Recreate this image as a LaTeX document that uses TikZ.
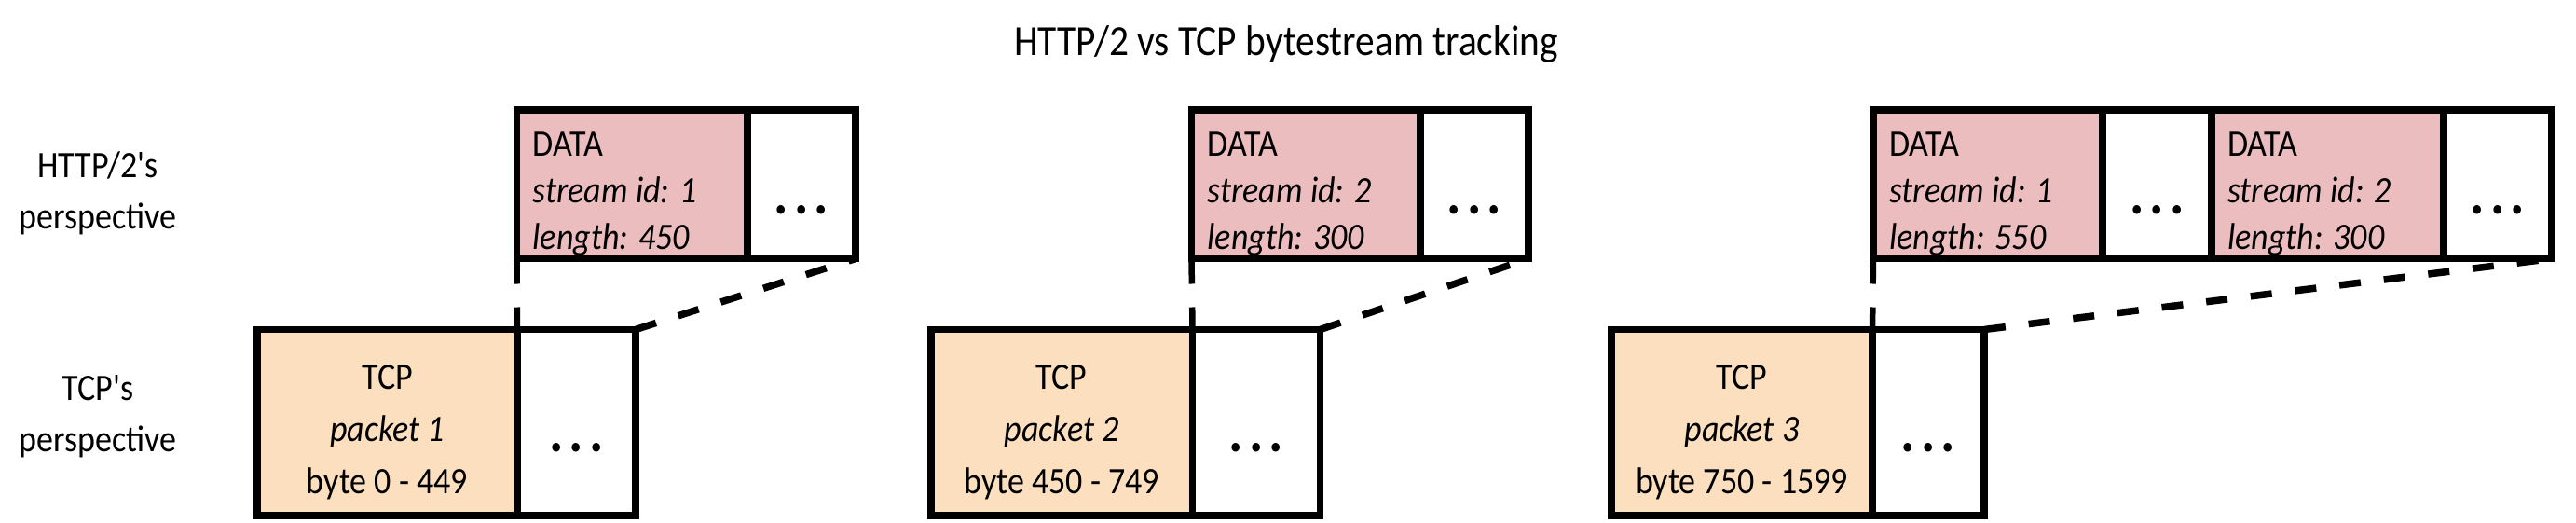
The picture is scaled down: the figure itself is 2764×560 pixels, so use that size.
\documentclass[tikz,border=0pt]{standalone}
\usepackage{fontspec}
\setmainfont{Carlito}[Ligatures=TeXOff, FakeStretch=0.9]
\definecolor{datapink}{RGB}{236,189,191}
\definecolor{tcppeach}{RGB}{252,223,190}
\newcommand\celldots{.\kern6pt.\kern6pt.}
\begin{document}
\begin{tikzpicture}[x=1pt,y=-1pt,
  cell/.style={draw=black, line width=7.5pt, outer sep=0pt, inner sep=0pt, anchor=north west},
  datacell/.style={cell, fill=datapink, minimum height=159.5pt},
  tcpcell/.style={cell, fill=tcppeach, minimum height=199.5pt},
  dotcellD/.style={cell, fill=white, minimum height=159.5pt},
  dotcellT/.style={cell, fill=white, minimum height=199.5pt},
  dtext/.style={anchor=west, align=left, inner sep=0pt, font=\fontsize{40}{50}\selectfont},
  ttext/.style={anchor=center, align=center, inner sep=0pt, font=\fontsize{40}{56}\selectfont},
  dotstext/.style={inner sep=0pt, font=\fontsize{64}{64}\selectfont\bfseries},
  persp/.style={align=center, inner sep=0pt, font=\fontsize{40}{55}\selectfont},
  split/.style={line width=6.5pt, dash pattern=on 27pt off 25pt},
  link/.style={line width=7.5pt, dash pattern=on 23pt off 25pt},
]
\useasboundingbox (0,0) rectangle (2764,560);

% title and side labels
\node[font=\fontsize{46}{50}\selectfont, anchor=base, inner sep=0pt] (title) at (1380,59) {HTTP/2 vs TCP bytestream tracking};
\node[persp] (lh) at (105,207) {HTTP/2's\\perspective};
\node[persp] (lt) at (105,447) {TCP's\\perspective};

% group 1
\node[datacell, minimum width=247.5pt] (d1) at (554.5,118) {};
\node[dotcellD, minimum width=116pt] (d1x) at (d1.north east) {};
\node[tcpcell, minimum width=279pt] (t1) at (276,353.5) {};
\node[dotcellT, minimum width=127pt] (t1x) at (t1.north east) {};

% group 2
\node[datacell, minimum width=245.5pt] (d2) at (1278.5,118) {};
\node[dotcellD, minimum width=116pt] (d2x) at (d2.north east) {};
\node[tcpcell, minimum width=280.5pt] (t2) at (999,353.5) {};
\node[dotcellT, minimum width=137pt] (t2x) at (t2.north east) {};

% group 3
\node[datacell, minimum width=246pt] (d3a) at (2010,118) {};
\node[dotcellD, minimum width=117pt] (d3ax) at (d3a.north east) {};
\node[datacell, minimum width=249pt] (d3b) at (d3ax.north east) {};
\node[dotcellD, minimum width=116pt] (d3bx) at (d3b.north east) {};
\node[tcpcell, minimum width=280pt] (t3) at (1729,353.5) {};
\node[dotcellT, minimum width=120pt] (t3x) at (t3.north east) {};

% texts in DATA cells
\node[dtext] (d1t) at ([xshift=17pt,yshift=-10pt]d1.west) {DATA\\\textit{stream id: 1}\\\textit{length: 450}};
\node[dtext] (d2t) at ([xshift=17pt,yshift=-10pt]d2.west) {DATA\\\textit{stream id: 2}\\\textit{length: 300}};
\node[dtext] (d3at) at ([xshift=17pt,yshift=-10pt]d3a.west) {DATA\\\textit{stream id: 1}\\\textit{length: 550}};
\node[dtext] (d3bt) at ([xshift=17pt,yshift=-10pt]d3b.west) {DATA\\\textit{stream id: 2}\\\textit{length: 300}};

% texts in TCP cells
\node[ttext] (t1t) at ([yshift=-10pt]t1.center) {TCP\\\textit{packet 1}\\byte 0 - 449};
\node[ttext] (t2t) at ([yshift=-10pt]t2.center) {TCP\\\textit{packet 2}\\byte 450 - 749};
\node[ttext] (t3t) at ([yshift=-10pt]t3.center) {TCP\\\textit{packet 3}\\byte 750 - 1599};

% dots
\node[dotstext] (d1xd) at ([yshift=-27pt]d1x.center) {\celldots};
\node[dotstext] (d2xd) at ([yshift=-27pt]d2x.center) {\celldots};
\node[dotstext] (d3axd) at ([yshift=-27pt]d3ax.center) {\celldots};
\node[dotstext] (d3bxd) at ([yshift=-27pt]d3bx.center) {\celldots};
\node[dotstext] (t1xd) at ([yshift=-27pt]t1x.center) {\celldots};
\node[dotstext] (t2xd) at ([yshift=-27pt]t2x.center) {\celldots};
\node[dotstext] (t3xd) at ([yshift=-27pt]t3x.center) {\celldots};

% connectors
\draw[split] (d1.south west) -- (t1x.north west);
\draw[link] (t1x.north east) -- (d1x.south east);
\draw[split] (d2.south west) -- (t2x.north west);
\draw[link] (t2x.north east) -- (d2x.south east);
\draw[split] (d3a.south west) -- (t3x.north west);
\draw[link] (t3x.north east) -- (d3bx.south east);
\end{tikzpicture}
\end{document}
